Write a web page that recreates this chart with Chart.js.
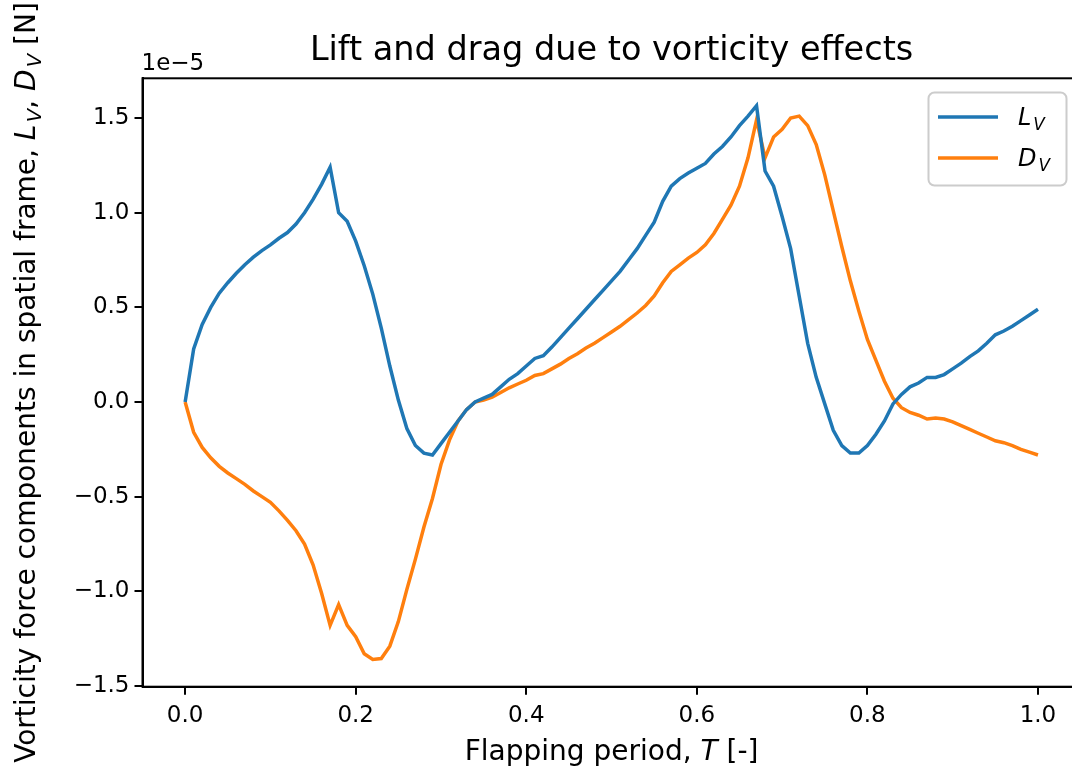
<!DOCTYPE html>
<html>
<head>
<meta charset="utf-8">
<script src="https://cdn.jsdelivr.net/npm/chart.js@4"></script>
<style>
  html, body { margin: 0; padding: 0; background: #fff; overflow: hidden; }
  #wrap { width: 1090px; height: 778px; }
</style>
</head>
<body>
<div id="wrap"><canvas id="myChart" width="1090" height="778"></canvas></div>
<script>
// flapping period samples
const period = [
  0.00, 0.01, 0.02, 0.03, 0.04, 0.05, 0.06, 0.07, 0.08, 0.09,
  0.10, 0.11, 0.12, 0.13, 0.14, 0.15, 0.16, 0.17, 0.18, 0.19,
  0.20, 0.21, 0.22, 0.23, 0.24, 0.25, 0.26, 0.27, 0.28, 0.29,
  0.30, 0.31, 0.32, 0.33, 0.34, 0.35, 0.36, 0.37, 0.38, 0.39,
  0.40, 0.41, 0.42, 0.43, 0.44, 0.45, 0.46, 0.47, 0.48, 0.49,
  0.50, 0.51, 0.52, 0.53, 0.54, 0.55, 0.56, 0.57, 0.58, 0.59,
  0.60, 0.61, 0.62, 0.63, 0.64, 0.65, 0.66, 0.67, 0.68, 0.69,
  0.70, 0.71, 0.72, 0.73, 0.74, 0.75, 0.76, 0.77, 0.78, 0.79,
  0.80, 0.81, 0.82, 0.83, 0.84, 0.85, 0.86, 0.87, 0.88, 0.89,
  0.90, 0.91, 0.92, 0.93, 0.94, 0.95, 0.96, 0.97, 0.98, 0.99,
  1.00
];

// values in units of 1e-5 N
const liftV = [
  0, 0.28, 0.41, 0.50, 0.575, 0.63, 0.68, 0.725, 0.765, 0.80,
  0.83, 0.865, 0.895, 0.94, 1.00, 1.07, 1.15, 1.24, 1.00, 0.955,
  0.85, 0.72, 0.57, 0.39, 0.19, 0.01, -0.14, -0.23, -0.27, -0.28,
  -0.22, -0.16, -0.10, -0.04, 0.00, 0.02, 0.04, 0.08, 0.12, 0.15,
  0.19, 0.23, 0.245, 0.29, 0.34, 0.39, 0.44, 0.49, 0.54, 0.59,
  0.64, 0.69, 0.75, 0.81, 0.88, 0.95, 1.06, 1.14, 1.18, 1.21,
  1.235, 1.26, 1.31, 1.35, 1.40, 1.46, 1.51, 1.565, 1.22, 1.14,
  0.98, 0.81, 0.56, 0.31, 0.13, -0.01, -0.15, -0.23, -0.27, -0.27,
  -0.23, -0.17, -0.10, -0.01, 0.04, 0.08, 0.10, 0.13, 0.13, 0.145,
  0.175, 0.205, 0.24, 0.27, 0.31, 0.355, 0.375, 0.40, 0.43, 0.46,
  0.49
];

const dragV = [
  0, -0.16, -0.24, -0.295, -0.34, -0.375, -0.405, -0.435, -0.47, -0.50,
  -0.53, -0.575, -0.625, -0.68, -0.75, -0.86, -1.01, -1.18, -1.07, -1.18,
  -1.24, -1.33, -1.36, -1.355, -1.29, -1.16, -0.99, -0.83, -0.66, -0.51,
  -0.33, -0.20, -0.10, -0.04, 0.00, 0.01, 0.025, 0.05, 0.075, 0.095,
  0.115, 0.14, 0.15, 0.175, 0.20, 0.23, 0.255, 0.285, 0.31, 0.34,
  0.37, 0.40, 0.435, 0.47, 0.51, 0.56, 0.63, 0.69, 0.725, 0.76,
  0.79, 0.83, 0.89, 0.965, 1.04, 1.14, 1.29, 1.49, 1.29, 1.40,
  1.44, 1.50, 1.51, 1.46, 1.36, 1.20, 1.01, 0.82, 0.64, 0.48,
  0.33, 0.22, 0.11, 0.02, -0.03, -0.055, -0.07, -0.09, -0.085, -0.09,
  -0.105, -0.125, -0.145, -0.165, -0.185, -0.205, -0.215, -0.23, -0.25, -0.265,
  -0.28
];

const xTicks = [0.0, 0.2, 0.4, 0.6, 0.8, 1.0];
const yTicks = [-1.5, -1.0, -0.5, 0.0, 0.5, 1.0, 1.5];

const FONT = "'DejaVu Sans', sans-serif";

// draw a run of text pieces: {t, it (italic), sub (subscript)}
function drawRich(ctx, parts, x, y, size, align) {
    const fontFor = p => (p.it ? 'italic ' : '') + (p.sub ? size * 0.7 : size) + 'px ' + FONT;
    const gap = p => (p.sub ? size * 0.08 : 0);
    let total = 0;
    parts.forEach(p => { ctx.font = fontFor(p); total += ctx.measureText(p.t).width + gap(p); });
    let cx = align === 'center' ? x - total / 2 : x;
    ctx.textAlign = 'left';
    ctx.textBaseline = 'alphabetic';
    parts.forEach(p => {
        ctx.font = fontFor(p);
        cx += gap(p);
        ctx.fillText(p.t, cx, y + (p.sub ? size * 0.22 : 0));
        cx += ctx.measureText(p.t).width;
    });
}

const decor = {
    id: 'decor',
    afterDraw(chart) {
        const ctx = chart.ctx;
        const a = chart.chartArea;
        ctx.save();
        ctx.fillStyle = '#000';

        // frame
        ctx.strokeStyle = '#000';
        ctx.lineWidth = 2;
        ctx.strokeRect(a.left, a.top, a.right - a.left, a.bottom - a.top);

        // title
        drawRich(ctx, [{t: 'Lift and drag due to vorticity effects'}], (a.left + a.right) / 2, 60, 33.5, 'center');

        // offset text
        drawRich(ctx, [{t: '1e\u22125'}], a.left - 1, 70, 23, 'left');

        // x label
        drawRich(ctx, [{t: 'Flapping period, '}, {t: 'T', it: true}, {t: ' [-]'}], (a.left + a.right) / 2, 760, 28, 'center');

        // y label
        ctx.save();
        ctx.translate(35, (a.top + a.bottom) / 2);
        ctx.rotate(-Math.PI / 2);
        drawRich(ctx, [
            {t: 'Vorticity force components in spatial frame, '},
            {t: 'L', it: true}, {t: 'V', it: true, sub: true},
            {t: ', '},
            {t: 'D', it: true}, {t: 'V', it: true, sub: true},
            {t: ' [N]'}
        ], 0, 0, 28, 'center');
        ctx.restore();

        // legend
        const bx = 928.5, by = 92.5, bw = 138, bh = 93, r = 6;
        ctx.beginPath();
        ctx.roundRect(bx, by, bw, bh, r);
        ctx.fillStyle = 'rgba(255,255,255,0.8)';
        ctx.fill();
        ctx.strokeStyle = '#cccccc';
        ctx.lineWidth = 2;
        ctx.stroke();
        const names = [['L', 'V'], ['D', 'V']];
        chart.data.datasets.forEach((ds, i) => {
            const ly = 117 + i * 41;
            ctx.beginPath();
            ctx.moveTo(938, ly);
            ctx.lineTo(998, ly);
            ctx.strokeStyle = ds.borderColor;
            ctx.lineWidth = 3.5;
            ctx.stroke();
            ctx.fillStyle = '#000';
            drawRich(ctx, [{t: names[i][0], it: true}, {t: names[i][1], it: true, sub: true}], 1018, ly + 8, 24, 'left');
        });
        ctx.restore();
    }
};

const toPts = vals => period.map((t, i) => ({x: t, y: vals[i]}));
const fmt = v => v.toFixed(1).replace('-', '\u2212');

const ctx = document.getElementById('myChart').getContext('2d');
const myChart = new Chart(ctx, {
    type: 'line',
    data: {
        datasets: [
            {
                label: 'L_V',
                data: toPts(liftV),
                borderColor: '#1f77b4',
                backgroundColor: '#1f77b4',
                borderWidth: 3.5,
                pointRadius: 0,
                tension: 0,
            },
            {
                label: 'D_V',
                data: toPts(dragV),
                borderColor: '#ff7f0e',
                backgroundColor: '#ff7f0e',
                borderWidth: 3.5,
                pointRadius: 0,
                tension: 0,
            }
        ]
    },
    options: {
        responsive: false,
        animation: false,
        devicePixelRatio: 1,
        layout: {
            padding: { top: 78.3, right: 9.4, bottom: 0, left: 0 }
        },
        scales: {
            x: {
                type: 'linear',
                min: -0.05,
                max: 1.05,
                afterBuildTicks: s => { s.ticks = xTicks.map(v => ({value: v})); },
                afterFit: s => { s.height = 91.3; },
                grid: {
                    drawOnChartArea: false,
                    drawTicks: true,
                    tickLength: 8,
                    color: '#000',
                    lineWidth: 2,
                },
                border: { display: true, color: '#000', width: 2 },
                ticks: {
                    color: '#000',
                    padding: 8,
                    maxRotation: 0,
                    font: { family: FONT, size: 23 },
                    callback: v => fmt(v),
                }
            },
            y: {
                type: 'linear',
                min: -1.504,
                max: 1.710,
                afterBuildTicks: s => { s.ticks = yTicks.map(v => ({value: v})); },
                afterFit: s => { s.width = 142.5; },
                grid: {
                    drawOnChartArea: false,
                    drawTicks: true,
                    tickLength: 8,
                    color: '#000',
                    lineWidth: 2,
                },
                border: { display: true, color: '#000', width: 2 },
                ticks: {
                    color: '#000',
                    padding: 5,
                    font: { family: FONT, size: 23 },
                    callback: v => fmt(v),
                }
            }
        },
        plugins: {
            legend: { display: false },
            tooltip: { enabled: false },
        }
    },
    plugins: [decor]
});
</script>
</body>
</html>
